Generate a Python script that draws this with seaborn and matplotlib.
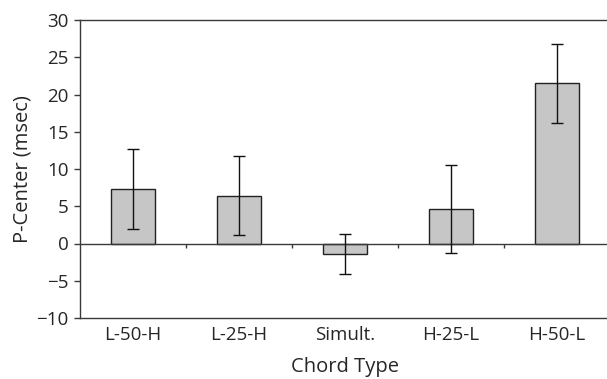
import pandas as pd
import seaborn as sns
import matplotlib.pyplot as plt

# values
chord_types = ['L-50-H', 'L-25-H', 'Simult.', 'H-25-L', 'H-50-L']
p_center = [7.3, 6.4, -1.4, 4.6, 21.5]
err = [5.4, 5.3, 2.7, 5.9, 5.3]

df = pd.DataFrame({'Chord Type': chord_types, 'P-Center (msec)': p_center})

sns.set_style('ticks')
plt.rcParams['font.family'] = ['Open Sans', 'DejaVu Sans']
line_col = '#3a3a3a'

fig = plt.figure(figsize=(6.07, 3.79), dpi=100)
ax = fig.add_axes([80 / 607, 61 / 379, 530 / 607, 298 / 379])

sns.barplot(data=df, x='Chord Type', y='P-Center (msec)', ax=ax,
            color='#c6c6c6', edgecolor='#222222', linewidth=1.0,
            width=0.41, saturation=1)
ax.errorbar(range(len(chord_types)), p_center, yerr=err, fmt='none',
            ecolor='#111111', elinewidth=1.0, capsize=4.3, capthick=1.0)

# zero line with category separators
ax.axhline(0, color=line_col, lw=1.0, zorder=1)
ax.vlines([0.5, 1.5, 2.5, 3.5], 0, -0.65, color=line_col, lw=1.0)

ax.set_xlim(-0.5, 4.5)
ax.set_ylim(-10, 30)
ax.set_yticks(range(-10, 31, 5))
ax.set_yticklabels([str(v).replace('-', '\u2212') for v in range(-10, 31, 5)])

for side in ['top', 'left', 'bottom', 'right']:
    ax.spines[side].set_color(line_col)
    ax.spines[side].set_linewidth(1.0)
ax.tick_params(axis='y', length=4.3, width=1.0, color=line_col, labelsize=13.5, pad=4)
ax.tick_params(axis='x', length=0, labelsize=13.5, pad=6)

ax.set_xlabel('Chord Type', fontsize=14.5, labelpad=9)
ax.set_ylabel('P-Center (msec)', fontsize=14.5, labelpad=3)

plt.savefig('out.png', dpi=100)
